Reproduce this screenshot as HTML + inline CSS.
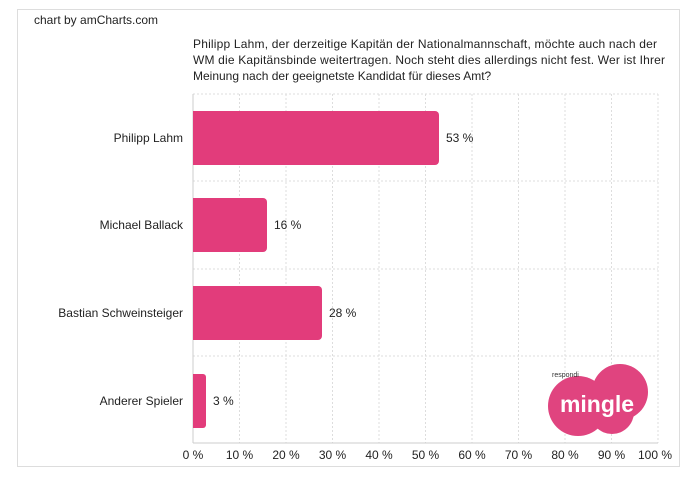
<!DOCTYPE html>
<html><head><meta charset="utf-8"><style>
body{margin:0;background:#fff;font-family:"Liberation Sans",sans-serif;}
</style></head><body>
<svg width="688" height="475" xmlns="http://www.w3.org/2000/svg" font-family="Liberation Sans, sans-serif" font-size="12" fill="#222">
<rect x="17.5" y="9.5" width="662" height="457" fill="#fff" stroke="#ddd"/>
<text x="34" y="24" font-size="12">chart by amCharts.com</text>
<text x="193" y="48" font-size="12" textLength="464">Philipp Lahm, der derzeitige Kapitän der Nationalmannschaft, möchte auch nach der</text>
<text x="193" y="64" font-size="12" textLength="472">WM die Kapitänsbinde weitertragen. Noch steht dies allerdings nicht fest. Wer ist Ihrer</text>
<text x="193" y="80" font-size="12">Meinung nach der geeignetste Kandidat für dieses Amt?</text>
<g stroke="#ddd" stroke-dasharray="2,2">
<line x1="193" y1="94" x2="658" y2="94"/>
<line x1="193" y1="181" x2="658" y2="181"/>
<line x1="193" y1="269" x2="658" y2="269"/>
<line x1="193" y1="356" x2="658" y2="356"/>
<line x1="239.5" y1="94" x2="239.5" y2="443"/><line x1="286" y1="94" x2="286" y2="443"/>
<line x1="332.5" y1="94" x2="332.5" y2="443"/><line x1="379" y1="94" x2="379" y2="443"/>
<line x1="425.5" y1="94" x2="425.5" y2="443"/><line x1="472" y1="94" x2="472" y2="443"/>
<line x1="518.5" y1="94" x2="518.5" y2="443"/><line x1="565" y1="94" x2="565" y2="443"/>
<line x1="611.5" y1="94" x2="611.5" y2="443"/><line x1="658" y1="94" x2="658" y2="443"/>
</g>
<line x1="193" y1="94" x2="193" y2="443" stroke="#ccc"/>
<line x1="193" y1="443" x2="658" y2="443" stroke="#ccc"/>
<g fill="#e23c7b">
<path d="M193 111h242a4 4 0 0 1 4 4v46a4 4 0 0 1-4 4h-242z"/>
<path d="M193 198h70a4 4 0 0 1 4 4v46a4 4 0 0 1-4 4h-70z"/>
<path d="M193 286h125a4 4 0 0 1 4 4v46a4 4 0 0 1-4 4h-125z"/>
<path d="M193 374h10a3 3 0 0 1 3 3v48a3 3 0 0 1-3 3h-10z"/>
</g>
<g text-anchor="end">
<text x="183" y="142">Philipp Lahm</text>
<text x="183" y="229">Michael Ballack</text>
<text x="183" y="317">Bastian Schweinsteiger</text>
<text x="183" y="405">Anderer Spieler</text>
</g>
<text x="446" y="142">53 %</text>
<text x="274" y="229">16 %</text>
<text x="329" y="317">28 %</text>
<text x="213" y="405">3 %</text>
<g text-anchor="middle">
<text x="193" y="459">0 %</text><text x="239.5" y="459">10 %</text><text x="286" y="459">20 %</text>
<text x="332.5" y="459">30 %</text><text x="379" y="459">40 %</text><text x="425.5" y="459">50 %</text>
<text x="472" y="459">60 %</text><text x="518.5" y="459">70 %</text><text x="565" y="459">80 %</text>
<text x="611.5" y="459">90 %</text><text x="655" y="459">100 %</text>
</g>
<g fill="#e0447f">
<circle cx="578" cy="406" r="30"/>
<circle cx="620" cy="392" r="28"/>
<circle cx="612" cy="412" r="22"/>
</g>
<text x="552" y="377" font-size="7" fill="#333">respondi</text>
<text x="597" y="412" font-size="23" font-weight="bold" fill="#fff" text-anchor="middle">mingle</text>
</svg>
</body></html>
